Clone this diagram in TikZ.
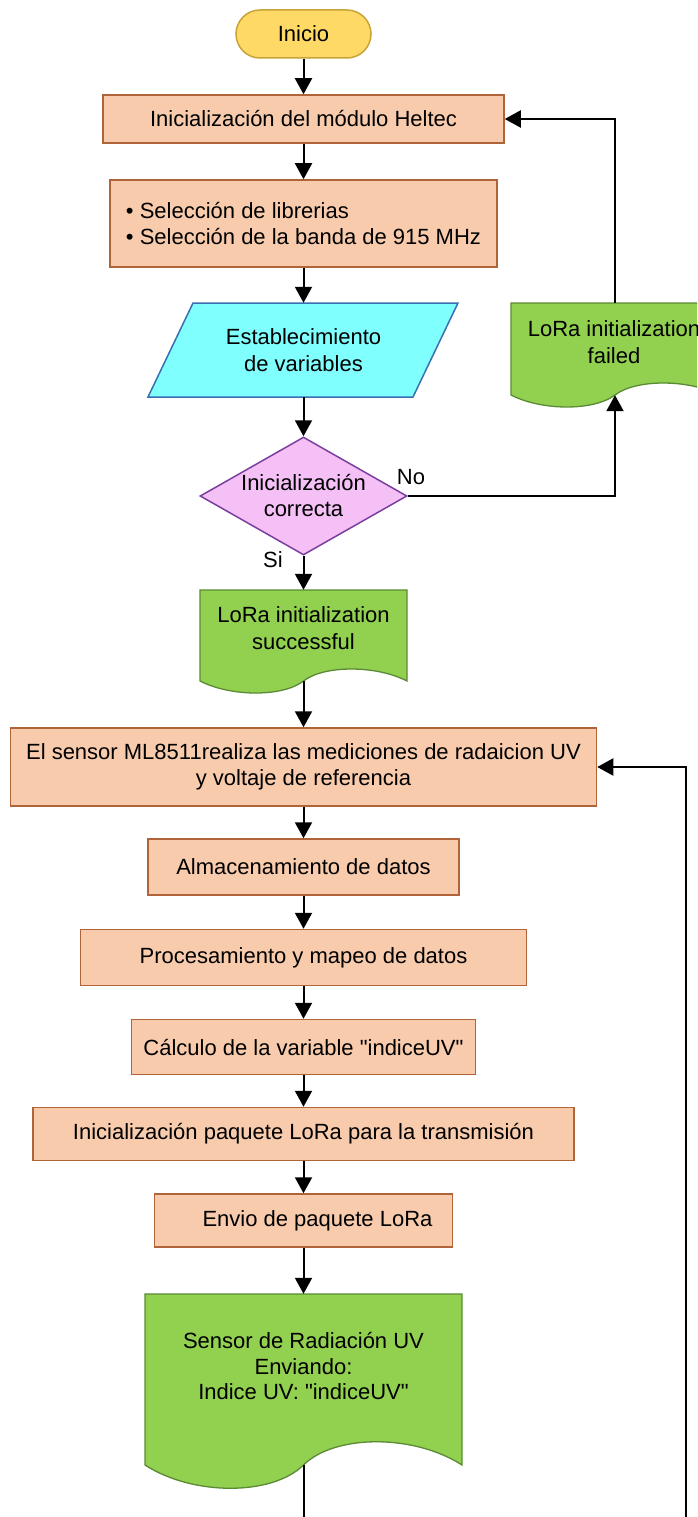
\documentclass[tikz,border=0pt]{standalone}
\usepackage{fontspec}
\setmainfont{Liberation Sans}[Ligatures=TeXOff]
\usetikzlibrary{shapes.geometric,arrows.meta}
\definecolor{boxfill}{HTML}{F8CBAD}
\definecolor{boxdraw}{HTML}{B0643A}
\definecolor{termfill}{HTML}{FFD966}
\definecolor{termdraw}{HTML}{C9A23A}
\definecolor{iofill}{HTML}{80FFFF}
\definecolor{iodraw}{HTML}{3A6FB0}
\definecolor{decfill}{HTML}{F4C0F6}
\definecolor{decdraw}{HTML}{7B3FA0}
\definecolor{docfill}{HTML}{92D050}
\definecolor{docdraw}{HTML}{5B8A34}
\begin{document}
\begin{tikzpicture}[x=1pt,y=-1pt,
  every node/.style={font=\fontsize{22}{26.5}\selectfont, text=black, inner sep=0pt},
  procbox/.style={rectangle, draw=boxdraw, fill=boxfill, line width=1.5pt, align=center},
  termbox/.style={rectangle, rounded corners=24pt, draw=termdraw, fill=termfill, line width=1.5pt},
  decshape/.style={diamond, draw=decdraw, fill=decfill, line width=1.5pt},
  ghost/.style={rectangle, draw=none},
  txt/.style={align=center},
  docshape/.style={draw=docdraw, fill=docfill, line width=1.3pt},
  ioshape/.style={draw=iodraw, fill=iofill, line width=1.5pt},
  flow/.style={line width=2pt, -{Triangle[length=16pt,width=17pt]}},
  plain/.style={line width=2pt}
]
\useasboundingbox (0,0) rectangle (697,1517);

% start
\node[termbox, minimum width=135pt, minimum height=48pt] (start) at (303.5,34) {Inicio};

% process boxes
\node[procbox, minimum width=401pt, minimum height=48pt] (box1) at (303.5,119) {Inicialización del módulo Heltec};
\node[procbox, minimum width=387pt, minimum height=87pt, align=left] (box2) at (303.5,223.5)
  {• Selección de librerias\\• Selección de la banda de 915 MHz};

% input/output parallelogram
\draw[ioshape] (193,303) -- (458,303) -- (413,397) -- (148,397) -- cycle;
\node[ghost, minimum width=220pt, minimum height=94pt] (para) at (303.5,350) {};
\node[txt] (paratxt) at (303.5,350) {Establecimiento\\de variables};

% decision
\node[decshape, minimum width=207pt, minimum height=118pt] (dec) at (303.5,496) {};
\node[txt] (dectxt) at (303.5,495.5) {Inicialización\\correcta};
\node (nolbl) at (411,477) {No};
\node (silbl) at (273,560) {Si};

% failed document (clipped at the right edge)
\begin{scope}
\clip (0,0) rectangle (697,1517);
\draw[docshape] (511,303) -- (719,303) -- (719,395)
  .. controls (688,379) and (636,379) .. (615,395)
  .. controls (594,411) and (542,411) .. (511,395) -- cycle;
\node[ghost, minimum width=208pt, minimum height=92pt] (fail) at (615,349) {};
\node[txt] (failtxt) at (614,342) {LoRa initialization\\failed};
\end{scope}

% success document
\draw[docshape] (200,590) -- (407,590) -- (407,681)
  .. controls (376,665) and (324,665) .. (303.5,681)
  .. controls (283,697) and (231,697) .. (200,681) -- cycle;
\node[ghost, minimum width=207pt, minimum height=91pt] (succ) at (303.5,635.5) {};
\node[txt] (succtxt) at (303.5,628) {LoRa initialization\\successful};

% measurement boxes
\node[procbox, minimum width=586pt, minimum height=78pt] (box3) at (303.5,767)
  {El sensor ML8511realiza las mediciones de radaicion UV\\y voltaje de referencia};
\node[procbox, minimum width=311pt, minimum height=56pt] (box4) at (303.5,867) {Almacenamiento de datos};
\node[procbox, minimum width=446pt, minimum height=56pt] (box5) at (303.5,957.5) {Procesamiento y mapeo de datos};
\node[procbox, minimum width=344pt, minimum height=55pt] (box6) at (303.5,1047) {Cálculo de la variable "indiceUV"};
\node[procbox, minimum width=541pt, minimum height=53pt] (box7) at (303.5,1134) {Inicialización paquete LoRa para la transmisión};
\node[procbox, minimum width=298pt, minimum height=53pt] (box8) at (303.5,1220.5) {\hspace*{28pt}Envio de paquete LoRa};

% sending document
\draw[docshape] (145,1294) -- (462,1294) -- (462,1465)
  .. controls (414,1434) and (335,1434) .. (303.5,1465)
  .. controls (272,1496) and (193,1496) .. (145,1465) -- cycle;
\node[ghost, minimum width=317pt, minimum height=171pt] (sendoc) at (303.5,1379.5) {};
\node[txt, font=\fontsize{22}{25.5}\selectfont] (sendtxt) at (303.5,1366)
  {Sensor de Radiación UV\\Enviando:\\Indice UV: "indiceUV"};

% free ends at the bottom edge
\coordinate (botend) at (303.5,1517);
\coordinate (loopstart) at (686,1517);

% connectors
\draw[flow] (start) -- (box1);
\draw[flow] (box1) -- (box2);
\draw[flow] (box2) -- (para);
\draw[flow] (para) -- (dec);
\draw[flow] (dec.south) -- (succ.north);
\draw[flow] (dec.east) -| (fail.south);
\draw[flow] (fail.north) |- (box1.east);
\draw[flow] (succ.south) -- (box3.north);
\draw[flow] (box3) -- (box4);
\draw[flow] (box4) -- (box5);
\draw[flow] (box5) -- (box6);
\draw[flow] (box6) -- (box7);
\draw[flow] (box7) -- (box8);
\draw[flow] (box8) -- (sendoc.north);
\draw[plain] (sendoc.south) -- (botend);
\draw[flow] (loopstart) |- (box3.east);
\end{tikzpicture}
\end{document}
